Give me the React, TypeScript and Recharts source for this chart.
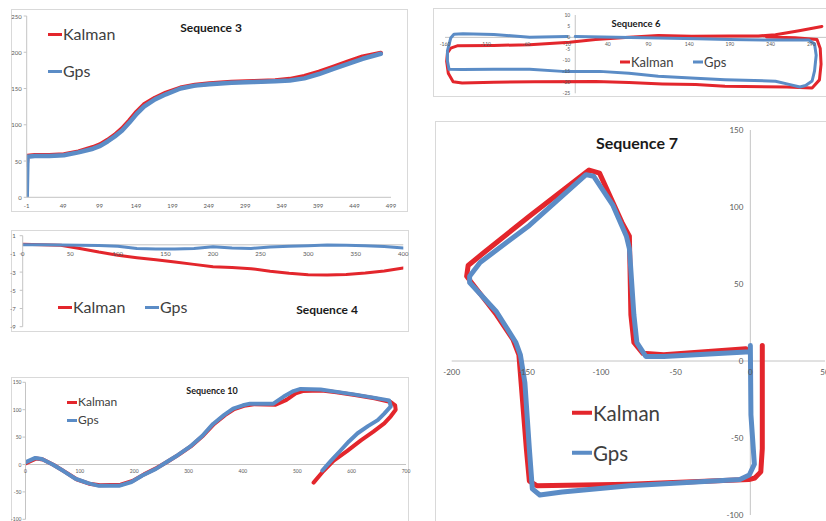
import { LineChart, Line, XAxis, YAxis, ReferenceLine } from 'recharts';

type Pt = [number, number];

const KALMAN_RED = '#e3262c';
const GPS_BLUE = '#5b8cc6';
const AXIS_GREY = '#c4c4c4';
const TICK_GREY = '#595959';
const FONT = 'Lato, "Liberation Sans", sans-serif';

// ---- Sequence 3 (line chart over sample index) ----
const seq3X = [-1, 0, 10, 30, 50, 70, 90, 100, 110, 120, 130, 140, 150, 160, 175, 190, 210, 230, 250, 280, 310, 340, 360, 380, 400, 420, 440, 460, 485];
const seq3Kalman = [45, 57, 58, 58, 59, 63, 69, 73, 79, 86, 95, 106, 118, 128, 137, 144, 151, 155, 157, 159, 160, 161, 163, 167, 173, 180, 187, 194, 199];
const seq3Gps = [0, 56, 57, 57, 58, 62, 67, 71, 77, 84, 92, 103, 115, 125, 135, 142, 150, 154, 156, 158, 159, 160, 161, 164, 170, 177, 184, 191, 198];
const seq3XTicks = [-1, 49, 99, 149, 199, 249, 299, 349, 399, 449, 499];
const seq3YTicks = [0, 50, 100, 150, 200, 250];

// ---- Sequence 4 ----
const seq4X = [0, 20, 40, 60, 80, 100, 120, 140, 160, 180, 200, 220, 240, 260, 280, 300, 320, 340, 360, 380, 400];
const seq4Kalman = [0.05, 0, -0.05, -0.4, -0.8, -1.15, -1.42, -1.65, -1.9, -2.15, -2.42, -2.5, -2.62, -2.9, -3.12, -3.28, -3.32, -3.27, -3.1, -2.88, -2.55];
const seq4Gps = [0, 0, -0.02, -0.05, -0.08, -0.15, -0.4, -0.47, -0.47, -0.4, -0.22, -0.35, -0.4, -0.25, -0.15, -0.1, -0.03, -0.05, -0.1, -0.2, -0.35];
const seq4XTicks = [0, 50, 100, 150, 200, 250, 300, 350, 400];
const seq4YTicks = [-9, -7, -5, -3, -1, 1];

// ---- Sequence 10 (x/y track) ----
const seq10Kalman: Pt[] = [
  [0, 2], [20, 11], [32, 9], [52, -1], [72, -13], [94, -27], [117, -35], [137, -38], [175, -37],
  [197, -30], [218, -18], [242, -6], [261, 5], [282, 18], [304, 33], [327, 53], [347, 74], [367, 90],
  [384, 101], [402, 107], [420, 110], [460, 109], [480, 118], [497, 130], [510, 134], [545, 135],
  [572, 132], [606, 127], [642, 121], [672, 114], [680, 108], [681, 100], [672, 88], [660, 75],
  [640, 60], [617, 44], [592, 25], [567, 7], [548, -12], [530, -33],
];
const seq10Gps: Pt[] = [
  [0, 4], [18, 12], [30, 10], [50, 0], [70, -12], [92, -26], [115, -34], [135, -39], [172, -39],
  [195, -32], [215, -20], [240, -8], [259, 4], [280, 17], [302, 32], [325, 52], [345, 74], [365, 90],
  [382, 102], [400, 108], [413, 111], [456, 111], [475, 124], [493, 134], [506, 138], [543, 137],
  [570, 133], [604, 128], [640, 122], [669, 117], [672, 106], [660, 93], [648, 81], [630, 70],
  [611, 57], [595, 42], [580, 26], [563, 8], [546, -11],
];
const seq10XTicks = [0, 100, 200, 300, 400, 500, 600, 700];
const seq10YTicks = [-100, -50, 0, 50, 100, 150];

// ---- Sequence 6 (x/y track) ----
const seq6Kalman: Pt[] = [
  [235, 0.2], [270, -0.2], [297, -1], [301, -5], [302, -12], [300, -19], [291, -22.6], [260, -22.2],
  [184, -21.9], [148, -21.1], [107, -20.8], [66, -20.2], [25, -19.7], [-50, -19.8], [-100, -20.1],
  [-139, -20.4], [-150, -19.8], [-156, -16], [-158, -10.7], [-157, -7], [-153, -4.8], [-145, -3.8],
  [-100, -3.6], [-56, -3.3], [-7, -2.2], [25, -1], [66, 0], [102, 0.8], [143, 0.5], [190, 0.6],
  [225, 0.6], [246, 1.2], [275, 3], [303, 4.9],
];
const seq6Gps: Pt[] = [
  [0, 0.4], [50, 0], [102, -0.3], [150, -0.6], [189, -1], [240, -1.2], [287, -1.2], [294, -3],
  [296, -8], [294, -15], [291, -19.5], [283, -21.5], [276, -22.2], [260, -20.8], [246, -19.6],
  [184, -18.9], [148, -18.3], [102, -17.4], [66, -16], [30, -15.2], [-16, -15.2], [-56, -14.3],
  [-100, -14.2], [-139, -14.4], [-155, -14.3], [-157, -10.6], [-157, -6], [-153, -0.3], [-149, 1.4],
  [-138, 1.6], [-100, 1.3], [-56, 0.1], [-10, 0.4],
];
const seq6XTicks = [-160, -110, -60, -10, 40, 90, 140, 190, 240, 290, 340];
const seq6YTicks = [-25, -20, -15, -10, -5, 0, 5, 10];

// ---- Sequence 7 (x/y track) ----
const seq7Kalman: Pt[] = [
  [8, 10], [8, -20], [8, -57], [7, -72], [3, -76], [-1, -77], [-81, -80], [-143, -81], [-148, -78],
  [-150, -57], [-155, 4], [-159, 14], [-170, 30], [-190, 55], [-189, 62], [-179, 70], [-148, 94],
  [-108, 124], [-101, 122], [-86, 90], [-81, 81], [-80, 30], [-78, 12], [-72, 5], [-58, 4], [-3, 8],
];
const seq7Gps: Pt[] = [
  [0, 10], [0.4, -35], [2.7, -67], [-0.7, -74], [-7, -77], [-81, -81], [-126, -85], [-141, -87],
  [-146, -83], [-148, -57], [-151, -14], [-154, 4], [-157, 12], [-170, 32], [-188, 51], [-188, 55],
  [-181, 64], [-148, 88], [-110, 121], [-105, 120], [-92, 101], [-83, 81], [-81, 73], [-78, 30],
  [-76, 12], [-70, 3], [-58, 3], [0, 6],
];
const seq7XTicks = [-200, -150, -100, -50, 0, 50];
const seq7YTicks = [-100, -50, 0, 50, 100, 150];

const zip = (xs: number[], ys: number[]): Pt[] => xs.map((x, i) => [x, ys[i]]);

interface Series {
  name: string;
  color: string;
  points: Pt[];
}

interface PanelProps {
  box: [number, number, number, number]; // left, top, width, height
  plot: [number, number, number, number]; // left, top, right, bottom
  xDomain: [number, number];
  xTicks: number[];
  yDomain: [number, number];
  yTicks: number[];
  xCross?: boolean;
  yCross?: boolean;
  tickSize: number;
  xLabelDy: number;
  yLabelDx: number;
  lineWidth: number;
  series: Series[];
  title: { text: string; x: number; y: number; size: number };
  legend: { items: [number, number][]; size: number; lineLen: number; lineW: number };
}

function Panel(p: PanelProps) {
  const [bx, by, bw, bh] = p.box;
  const [pl, pt, pr, pb] = p.plot;
  const left = pl - bx;
  const top = pt - by;
  const right = bx + bw - pr;
  const bottom = by + bh - pb;
  const plotW = pr - pl;
  const plotH = pb - pt;
  // where the axes cross zero, in chart pixels
  const x0 = left + ((0 - p.xDomain[0]) / (p.xDomain[1] - p.xDomain[0])) * plotW;
  const y0 = top + ((p.yDomain[1] - 0) / (p.yDomain[1] - p.yDomain[0])) * plotH;
  const xLabelY = (p.xCross ? y0 : top + plotH) + p.xLabelDy;
  const yLabelX = (p.yCross ? x0 : left) - p.yLabelDx;
  const tickStyle = { fontSize: p.tickSize, fill: TICK_GREY, fontFamily: FONT };

  return (
    <>
      <div
        style={{
          position: 'absolute',
          left: bx,
          top: by,
          width: bw,
          height: bh,
          border: '1px solid #d9d9d9',
          boxSizing: 'border-box',
          background: '#fff',
        }}
      />
      <div style={{ position: 'absolute', left: bx, top: by, width: bw, height: bh }}>
        <LineChart width={bw} height={bh} margin={{ top, right, bottom: 0, left: 0 }}>
          <XAxis
            type="number"
            dataKey="x"
            domain={p.xDomain}
            ticks={p.xTicks}
            interval={0}
            allowDataOverflow
            height={bottom}
            axisLine={p.xCross ? false : { stroke: AXIS_GREY }}
            tickLine={false}
            tick={(t: any) => (
              <text x={t.x} y={xLabelY} textAnchor="middle" dominantBaseline="central" {...tickStyle}>
                {t.payload.value}
              </text>
            )}
          />
          <YAxis
            type="number"
            domain={p.yDomain}
            ticks={p.yTicks}
            interval={0}
            allowDataOverflow
            width={left}
            axisLine={p.yCross ? false : { stroke: AXIS_GREY }}
            tickLine={p.yCross ? false : { stroke: AXIS_GREY }}
            tickSize={3}
            tick={(t: any) => (
              <text x={yLabelX} y={t.y} textAnchor="end" dominantBaseline="central" {...tickStyle}>
                {t.payload.value}
              </text>
            )}
          />
          {p.xCross && <ReferenceLine y={0} stroke={AXIS_GREY} />}
          {p.yCross && <ReferenceLine x={0} stroke={AXIS_GREY} />}
          {p.series.map((s) => (
            <Line
              key={s.name}
              name={s.name}
              data={s.points.map(([x, y]) => ({ x, y }))}
              dataKey="y"
              type="linear"
              stroke={s.color}
              strokeWidth={p.lineWidth}
              strokeLinejoin="round"
              strokeLinecap="round"
              dot={false}
              activeDot={false}
              isAnimationActive={false}
            />
          ))}
        </LineChart>
        <div
          style={{
            position: 'absolute',
            left: p.title.x - bx,
            top: p.title.y - by,
            transform: 'translate(-50%, -50%)',
            fontFamily: FONT,
            fontWeight: 700,
            fontSize: p.title.size,
            color: '#1a1a1a',
            whiteSpace: 'nowrap',
            lineHeight: 1,
          }}
        >
          {p.title.text}
        </div>
        {p.series.map((s, i) => {
          const [lx, ly] = p.legend.items[i];
          return (
            <div
              key={s.name}
              style={{
                position: 'absolute',
                left: lx - bx,
                top: ly - by,
                transform: 'translateY(-50%)',
                display: 'flex',
                alignItems: 'center',
                whiteSpace: 'nowrap',
              }}
            >
              <div style={{ width: p.legend.lineLen, height: p.legend.lineW, background: s.color }} />
              <span
                style={{
                  fontFamily: FONT,
                  fontSize: p.legend.size,
                  color: '#404040',
                  lineHeight: 1,
                  marginLeft: 1,
                }}
              >
                {s.name}
              </span>
            </div>
          );
        })}
      </div>
    </>
  );
}

export default function App() {
  return (
    <div
      style={{
        position: 'fixed',
        left: 0,
        top: 0,
        width: 826,
        height: 521,
        overflow: 'hidden',
        background: '#fff',
      }}
    >
      <style>{'.recharts-surface { overflow: visible; }'}</style>
      <Panel
        box={[11, 9, 397, 203]}
        plot={[26.7, 16, 391, 197.3]}
        xDomain={[-1, 499]}
        xTicks={seq3XTicks}
        yDomain={[0, 250]}
        yTicks={seq3YTicks}
        tickSize={6}
        xLabelDy={8}
        yLabelDx={5}
        lineWidth={4.5}
        series={[
          { name: 'Kalman', color: KALMAN_RED, points: zip(seq3X, seq3Kalman) },
          { name: 'Gps', color: GPS_BLUE, points: zip(seq3X, seq3Gps) },
        ]}
        title={{ text: 'Sequence 3', x: 211, y: 27.5, size: 12 }}
        legend={{ items: [[48, 34], [48, 71]], size: 16, lineLen: 14, lineW: 3 }}
      />
      <Panel
        box={[11, 230, 398, 102]}
        plot={[22.7, 235.7, 403.3, 326.7]}
        xDomain={[0, 400]}
        xTicks={seq4XTicks}
        yDomain={[-9, 1]}
        yTicks={seq4YTicks}
        xCross
        tickSize={6}
        xLabelDy={9}
        yLabelDx={7}
        lineWidth={3}
        series={[
          { name: 'Kalman', color: KALMAN_RED, points: zip(seq4X, seq4Kalman) },
          { name: 'Gps', color: GPS_BLUE, points: zip(seq4X, seq4Gps) },
        ]}
        title={{ text: 'Sequence 4', x: 327, y: 310, size: 12 }}
        legend={{ items: [[58, 307], [145, 307]], size: 16, lineLen: 14, lineW: 3 }}
      />
      <Panel
        box={[11, 377, 398, 160]}
        plot={[25.5, 382.3, 406, 519.3]}
        xDomain={[0, 700]}
        xTicks={seq10XTicks}
        yDomain={[-100, 150]}
        yTicks={seq10YTicks}
        xCross
        tickSize={5}
        xLabelDy={6}
        yLabelDx={4}
        lineWidth={4}
        series={[
          { name: 'Kalman', color: KALMAN_RED, points: seq10Kalman },
          { name: 'Gps', color: GPS_BLUE, points: seq10Gps },
        ]}
        title={{ text: 'Sequence 10', x: 212, y: 390, size: 9 }}
        legend={{ items: [[67, 402], [67, 420]], size: 12, lineLen: 10, lineW: 3 }}
      />
      <Panel
        box={[433, 8, 430, 89]}
        plot={[445, 15, 852, 93.3]}
        xDomain={[-160, 340]}
        xTicks={seq6XTicks}
        yDomain={[-25, 10]}
        yTicks={seq6YTicks}
        xCross
        yCross
        tickSize={5}
        xLabelDy={7}
        yLabelDx={5}
        lineWidth={3}
        series={[
          { name: 'Kalman', color: KALMAN_RED, points: seq6Kalman },
          { name: 'Gps', color: GPS_BLUE, points: seq6Gps },
        ]}
        title={{ text: 'Sequence 6', x: 636, y: 24, size: 9.5 }}
        legend={{ items: [[620, 62], [693, 62]], size: 13, lineLen: 10, lineW: 3 }}
      />
      <Panel
        box={[435, 121, 400, 410]}
        plot={[451.7, 130, 825, 515]}
        xDomain={[-200, 50]}
        xTicks={seq7XTicks}
        yDomain={[-100, 150]}
        yTicks={seq7YTicks}
        xCross
        yCross
        tickSize={8}
        xLabelDy={11}
        yLabelDx={7}
        lineWidth={5}
        series={[
          { name: 'Kalman', color: KALMAN_RED, points: seq7Kalman },
          { name: 'Gps', color: GPS_BLUE, points: seq7Gps },
        ]}
        title={{ text: 'Sequence 7', x: 637, y: 143, size: 16 }}
        legend={{ items: [[572, 413], [572, 453]], size: 20.5, lineLen: 20, lineW: 4 }}
      />
    </div>
  );
}
